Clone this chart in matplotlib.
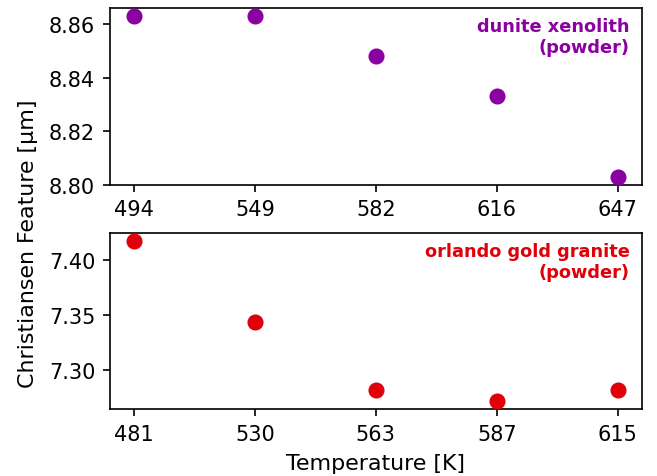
import numpy as np
import matplotlib
matplotlib.use("Agg")
import matplotlib.pyplot as plt

# dunite xenolith (powder)
temps_dun = ["494", "549", "582", "616", "647"]
cf_dun = [8.863, 8.863, 8.848, 8.833, 8.803]

# orlando gold granite (powder)
temps_ogg = ["481", "530", "563", "587", "615"]
cf_ogg = [7.418, 7.344, 7.282, 7.272, 7.282]

col_dun = "#8a00a0"
col_ogg = "#e0000a"

fig, (ax1, ax2) = plt.subplots(2, 1, figsize=(6.57 / 1.5, 4.77 / 1.5), dpi=150)
fig.subplots_adjust(left=0.167, right=0.977, top=0.981, bottom=0.140, hspace=0.272)

x1 = np.arange(len(temps_dun))
ax1.scatter(x1, cf_dun, s=45, color=col_dun, zorder=3)
ax1.set_xticks(x1)
ax1.set_xticklabels(temps_dun)
ax1.set_yticks([8.80, 8.82, 8.84, 8.86])
ax1.text(0.977, 0.95, "dunite xenolith\n(powder)", transform=ax1.transAxes,
         ha="right", va="top", multialignment="right", color=col_dun,
         fontsize=8.5, fontweight="bold")

x2 = np.arange(len(temps_ogg))
ax2.scatter(x2, cf_ogg, s=45, color=col_ogg, zorder=3)
ax2.set_xticks(x2)
ax2.set_xticklabels(temps_ogg)
ax2.set_yticks([7.30, 7.35, 7.40])
ax2.text(0.977, 0.945, "orlando gold granite\n(powder)", transform=ax2.transAxes,
         ha="right", va="top", multialignment="right", color=col_ogg,
         fontsize=8.5, fontweight="bold")
ax2.set_xlabel("Temperature [K]", fontsize=10.6, labelpad=4.5)

fig.text(28 / 657, 0.49, "Christiansen Feature [µm]", rotation=90,
         ha="center", va="center", fontsize=10.6)

plt.savefig("out.png", dpi=150)
